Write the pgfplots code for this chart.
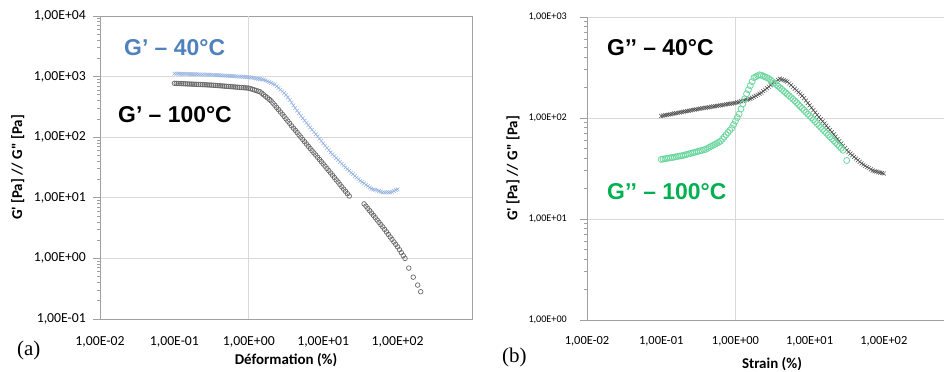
\documentclass[border=0pt]{standalone}
\usepackage{pgfplots}
\pgfplotsset{compat=1.18}
\usepackage{fontspec}
\setmainfont{Carlito}
\newfontfamily\annofont{Liberation Sans}
\newfontfamily\seriffont{Liberation Serif}
\definecolor{framegray}{RGB}{160,160,160}
\definecolor{gridgray}{RGB}{217,217,217}
\definecolor{annoblue}{RGB}{79,129,189}
\definecolor{annogreen}{RGB}{0,176,80}
\definecolor{mkblue}{RGB}{148,178,225}
\definecolor{mkgrayA}{RGB}{105,105,105}
\definecolor{mkgrayB}{RGB}{75,75,75}
\definecolor{mkgreen}{RGB}{110,215,160}
\begin{document}
\begin{tikzpicture}[x=1bp,y=1bp]
\useasboundingbox (0,0) rectangle (944,371);
% Panel (a)
\begin{axis}[
  scale only axis, xmode=log, ymode=log,
  at={(100bp,52bp)}, anchor=south west, width=372bp, height=303bp,
  xmin=0.01, xmax=1000, ymin=0.1, ymax=10000,
  axis line style={-, draw=framegray, line width=0.8bp},
  ymajorgrids, xmajorgrids=false,
  grid style={draw=gridgray, line width=0.8bp},
  minor xtick={}, minor ytick={},
  xtick pos=bottom, ytick pos=left,
  xtick align=inside, ytick align=outside,
  major tick length=7bp,
  xtick style={draw=none},
  ytick style={draw=framegray, line width=0.8bp},
  extra x ticks={1}, extra x tick labels={},
  extra x tick style={grid=major},
  xtick={0.01,0.1,1,10,100},
  xticklabels={{1,00E-02},{1,00E-01},{1,00E+00},{1,00E+01},{1,00E+02}},
  ytick={0.1,1,10,100,1000,10000},
  yticklabels={{1,00E-01},{1,00E+00},{1,00E+01},{1,00E+02},{1,00E+03},{1,00E+04}},
  xticklabel style={anchor=center, inner sep=0pt, font=\fontsize{13.8}{16}\selectfont, yshift=-23bp},
  yticklabel style={anchor=east, inner sep=0pt, font=\fontsize{13.8}{16}\selectfont, xshift=-7bp},
  xlabel={Déformation (\%)},
  xlabel style={at={(axis description cs:0.5,-0.135)}, anchor=center, font=\fontsize{15}{18}\selectfont\bfseries},
  ylabel={G\textquotesingle{} [Pa] // G\textquotedbl{} [Pa]},
  ylabel style={at={(axis description cs:-0.221,0.5)}, anchor=center, font=\fontsize{15}{18}\selectfont\bfseries},
  clip=false,
]
% G' 40 C
\addplot[only marks, mark=x, mark size=2.6bp, mkblue, mark options={line width=0.5bp}] coordinates {
(0.1,1122) (0.1122,1117) (0.1259,1112) (0.1413,1107) (0.1585,1102) (0.1778,1096) (0.1995,1091) (0.2239,1086) (0.2512,1081) (0.2818,1076) (0.3162,1072) (0.3548,1062) (0.3981,1052) (0.4467,1042) (0.5012,1033) (0.5623,1023) (0.631,1014) (0.7079,1005) (0.7943,995) (0.8913,986) (1,977) (1.122,955) (1.259,933) (1.413,912) (1.585,891) (1.778,838) (1.995,789) (2.239,741) (2.512,650) (2.818,571) (3.162,501) (3.548,410) (3.981,335) (4.467,274) (5.012,224) (5.623,188) (6.31,158.5) (7.079,133) (7.943,112) (8.913,94.4) (10,79.4) (11.22,66.8) (12.59,56.2) (14.13,48.7) (15.85,42.2) (17.78,36.5) (19.95,31.6) (22.39,27.9) (25.12,24.5) (28.18,21.6) (31.62,19.05) (35.48,17.3) (39.81,15.6) (44.67,14.1) (50.12,13.5) (56.23,12.9) (63.1,12.3) (70.79,12.3) (79.43,12.3) (89.13,13.0) (100,13.8)
(0.1059,1120) (0.1189,1115) (0.1334,1110) (0.1496,1105) (0.1679,1099) (0.1884,1094) (0.2113,1089) (0.2371,1084) (0.2661,1079) (0.2985,1074) (0.335,1067) (0.3758,1057) (0.4217,1047) (0.4732,1037) (0.5309,1028) (0.5957,1019) (0.6683,1010) (0.7499,1000) (0.8414,991) (0.9441,982) (1.059,966) (1.189,944) (1.334,922) (1.496,901) (1.679,864) (1.884,813) (2.113,765) (2.371,694) (2.661,609) (2.985,535) (3.35,453) (3.758,371) (4.217,303) (4.732,248) (5.309,205) (5.957,173) (6.683,145) (7.499,122) (8.414,103) (9.441,86.6) (10.59,72.8) (11.89,61.3) (13.34,52.3) (14.96,45.3) (16.79,39.2) (18.84,34.0) (21.13,29.7) (23.71,26.1) (26.61,23.0) (29.85,20.3) (33.5,18.2) (37.58,16.4) (42.17,14.8) (47.32,13.8) (53.09,13.2) (59.57,12.6) (66.83,12.3) (74.99,12.3) (84.14,12.6) (94.41,13.4)
};
% G' 100 C
\addplot[only marks, mark=o, mark size=2.3bp, mkgrayA, mark options={line width=0.7bp}] coordinates {
(0.1,776) (0.1122,771) (0.1259,766) (0.1413,760) (0.1585,755) (0.1778,750) (0.1995,745) (0.2239,740) (0.2512,735) (0.2818,729) (0.3162,724) (0.3548,716) (0.3981,708) (0.4467,700) (0.5012,692) (0.5623,684) (0.631,676) (0.7079,668) (0.7943,661) (0.8913,653) (1,646) (1.122,617) (1.259,589) (1.413,562) (1.585,501) (1.778,447) (1.995,398) (2.239,336) (2.512,284) (2.818,240) (3.162,201) (3.548,169) (3.981,141) (4.467,119) (5.012,100) (5.623,84.1) (6.31,70.8) (7.079,59.9) (7.943,50.7) (8.913,42.9) (10,36.3) (11.22,30.5) (12.59,25.7) (14.13,21.6) (15.85,18.2) (17.78,15.2) (19.95,12.8) (22.39,10.7)
(0.1059,773) (0.1189,768) (0.1334,763) (0.1496,757) (0.1679,752) (0.1884,747) (0.2113,742) (0.2371,737) (0.2661,732) (0.2985,726) (0.335,720) (0.3758,712) (0.4217,704) (0.4732,696) (0.5309,688) (0.5957,680) (0.6683,672) (0.7499,664) (0.8414,657) (0.9441,649) (1.059,631) (1.189,603) (1.334,575) (1.496,531) (1.679,473) (1.884,422) (2.113,366) (2.371,309) (2.661,261) (2.985,220) (3.35,184) (3.758,154) (4.217,130) (4.732,109) (5.309,91.7) (5.957,77.2) (6.683,65.1) (7.499,55.1) (8.414,46.6) (9.441,39.5) (10.59,33.3) (11.89,28.0) (13.34,23.6) (14.96,19.8) (16.79,16.6) (18.84,13.9) (21.13,11.7)
(35.48,7.94) (39.81,6.67) (44.67,5.60) (50.12,4.70) (56.23,3.94) (63.1,3.31) (70.79,2.74) (79.43,2.26) (89.13,1.87) (100,1.55) (112.2,1.245) (125.9,1.00) (141.3,0.692) (162.2,0.490) (186.2,0.363) (204.2,0.282)
(37.58,7.28) (42.17,6.11) (47.32,5.13) (53.09,4.30) (59.57,3.61) (66.83,3.01) (74.99,2.49) (84.14,2.06) (94.41,1.70) (105.9,1.39) (118.9,1.115)
};
\end{axis}
% Panel (b)
\begin{axis}[
  scale only axis, xmode=log, ymode=log,
  at={(587bp,51bp)}, anchor=south west, width=357bp, height=303bp,
  xmin=0.01, xmax=647, ymin=1, ymax=1000,
  axis x line*=bottom, axis y line*=left,
  axis line style={-, draw=framegray, line width=0.8bp},
  ymajorgrids, xmajorgrids=false,
  grid style={draw=gridgray, line width=0.8bp},
  minor xtick={}, minor ytick={},
  xtick pos=bottom, ytick pos=left,
  xtick align=inside, ytick align=outside,
  major tick length=7bp,
  xtick style={draw=none},
  ytick style={draw=framegray, line width=0.8bp},
  extra x ticks={1}, extra x tick labels={},
  extra x tick style={grid=major},
  xtick={0.01,0.1,1,10,100},
  xticklabels={{1,00E-02},{1,00E-01},{1,00E+00},{1,00E+01},{1,00E+02}},
  ytick={1,10,100,1000},
  yticklabels={{1,00E+00},{1,00E+01},{1,00E+02},{1,00E+03}},
  xticklabel style={anchor=center, inner sep=0pt, font=\fontsize{12.5}{15}\selectfont, yshift=-21bp},
  yticklabel style={anchor=east, inner sep=0pt, font=\fontsize{10.2}{12}\selectfont, xshift=-13bp},
  xlabel={Strain (\%)},
  xlabel style={at={(axis description cs:0.518,-0.145)}, anchor=center, font=\fontsize{15}{18}\selectfont\bfseries},
  ylabel={G\textquotesingle{} [Pa] // G\textquotedbl{} [Pa]},
  ylabel style={at={(axis description cs:-0.207,0.5)}, anchor=center, font=\fontsize{15}{18}\selectfont\bfseries},
  clip=false,
]
% G'' 40 C
\addplot[only marks, mark=x, mark size=2.8bp, mkgrayB, mark options={line width=0.5bp}] coordinates {
(0.1,104.7) (0.1122,106.4) (0.1259,108.1) (0.1413,109.9) (0.1585,111.7) (0.1778,113.5) (0.1995,115.3) (0.2239,117.2) (0.2512,119.1) (0.2818,121.1) (0.3162,123.0) (0.3548,124.7) (0.3981,126.5) (0.4467,128.2) (0.5012,130.0) (0.5623,131.8) (0.631,133.7) (0.7079,135.5) (0.7943,137.4) (0.8913,139.3) (1,141.3) (1.122,144.5) (1.259,147.9) (1.413,151.4) (1.585,154.9) (1.778,162.2) (1.995,169.8) (2.239,177.8) (2.512,190.5) (2.818,204.2) (3.162,218.8) (3.548,231.7) (3.981,245.5) (4.467,237.1) (5.012,229.1) (5.623,211.3) (6.31,195.0) (7.079,179.9) (7.943,166.0) (8.913,148.8) (10,133.4) (11.22,119.6) (12.59,107.2) (14.13,97.2) (15.85,88.1) (17.78,79.9) (19.95,72.4) (22.39,65.3) (25.12,58.9) (28.18,53.1) (31.62,47.9) (35.48,44.4) (39.81,41.2) (44.67,38.2) (50.12,35.5) (56.23,33.6) (63.1,31.9) (70.79,30.2) (79.43,29.5) (89.13,28.8) (100,28.2)
(0.1059,105.5) (0.1189,107.2) (0.1334,109.0) (0.1496,110.8) (0.1679,112.6) (0.1884,114.4) (0.2113,116.2) (0.2371,118.1) (0.2661,120.1) (0.2985,122.0) (0.335,123.8) (0.3758,125.6) (0.4217,127.3) (0.4732,129.1) (0.5309,130.9) (0.5957,132.7) (0.6683,134.6) (0.7499,136.4) (0.8414,138.3) (0.9441,140.3) (1.059,142.9) (1.189,146.2) (1.334,149.6) (1.496,153.1) (1.679,158.5) (1.884,166.0) (2.113,173.8) (2.371,184.0) (2.661,197.2) (2.985,211.4) (3.35,225.2) (3.758,238.5) (4.217,241.3) (4.732,233.1) (5.309,220.0) (5.957,203.0) (6.683,187.3) (7.499,172.8) (8.414,157.2) (9.441,140.9) (10.59,126.3) (11.89,113.2) (13.34,102.1) (14.96,92.5) (16.79,83.9) (18.84,76.1) (21.13,68.8) (23.71,62.0) (26.61,55.9) (29.85,50.4) (33.5,46.1) (37.58,42.8) (42.17,39.7) (47.32,36.8) (53.09,34.5) (59.57,32.7) (66.83,31.0) (74.99,29.8) (84.14,29.1) (94.41,28.5)
};
% G'' 100 C
\addplot[only marks, mark=o, mark size=3bp, mkgreen, mark options={line width=0.8bp}] coordinates {
(0.1,38.9) (0.1122,39.5) (0.1259,40.1) (0.1413,40.7) (0.1585,41.4) (0.1778,42.0) (0.1995,42.7) (0.2239,43.7) (0.2512,44.7) (0.2818,45.7) (0.3162,46.8) (0.3548,47.9) (0.3981,49.0) (0.4467,51.3) (0.5012,53.7) (0.5623,56.2) (0.631,58.9) (0.7079,65.0) (0.7943,71.9) (0.8414,75.5) (0.8913,79.4) (0.9441,86.1) (1,93.3) (1.059,101.2) (1.122,109.6) (1.189,123.0) (1.259,138.0) (1.334,154.9) (1.413,173.8) (1.496,190.5) (1.585,208.9) (1.679,229.1) (1.778,251.2) (1.884,256.5) (1.995,262.4) (2.113,267.9) (2.239,264.9) (2.512,255.3) (2.818,245.5) (3.162,229.1) (3.548,213.8) (3.981,199.5) (4.467,185.1) (5.012,171.8) (5.623,159.4) (6.31,147.9) (7.079,135.7) (7.943,124.5) (8.913,114.2) (10,104.7) (11.22,96.0) (12.59,88.1) (14.13,80.8) (15.85,74.1) (17.78,68.0) (19.95,62.4) (22.39,57.2) (25.12,52.5) (28.18,47.9) (31.62,38.0)
(0.1059,39.2) (0.1189,39.8) (0.1334,40.4) (0.1496,41.0) (0.1679,41.7) (0.1884,42.3) (0.2113,43.2) (0.2371,44.2) (0.2661,45.2) (0.2985,46.2) (0.335,47.3) (0.3758,48.4) (0.4217,50.1) (0.4732,52.5) (0.5309,54.9) (0.5957,57.5) (0.6683,61.9) (0.7499,68.4)
(2.371,260.1) (2.661,250.4) (2.985,237.2) (3.35,221.3) (3.758,206.5) (4.217,192.2) (4.732,178.3) (5.309,165.5) (5.957,153.5) (6.683,141.7) (7.499,130.0) (8.414,119.2) (9.441,109.3) (10.59,100.3) (11.89,92.0) (13.34,84.4) (14.96,77.4) (16.79,71.0) (18.84,65.1) (21.13,59.7) (23.71,54.8) (26.61,50.2)
};
\end{axis}
% annotations
\node[anchor=west, inner sep=0pt, text=annoblue, font=\annofont\bfseries\fontsize{23}{26}\selectfont] at (124,323) {G’ – 40°C};
\node[anchor=west, inner sep=0pt, text=black, font=\annofont\bfseries\fontsize{23}{26}\selectfont] at (118,256) {G’ – 100°C};
\node[anchor=west, inner sep=0pt, text=black, font=\annofont\bfseries\fontsize{23}{26}\selectfont] at (607,323) {G’’ – 40°C};
\node[anchor=west, inner sep=0pt, text=annogreen, font=\annofont\bfseries\fontsize{23}{26}\selectfont] at (607,179) {G’’ – 100°C};
\node[anchor=west, inner sep=0pt, font=\seriffont\fontsize{21}{24}\selectfont] at (17,21) {(a)};
\node[anchor=west, inner sep=0pt, font=\seriffont\fontsize{21}{24}\selectfont] at (502,14) {(b)};
\end{tikzpicture}
\end{document}
